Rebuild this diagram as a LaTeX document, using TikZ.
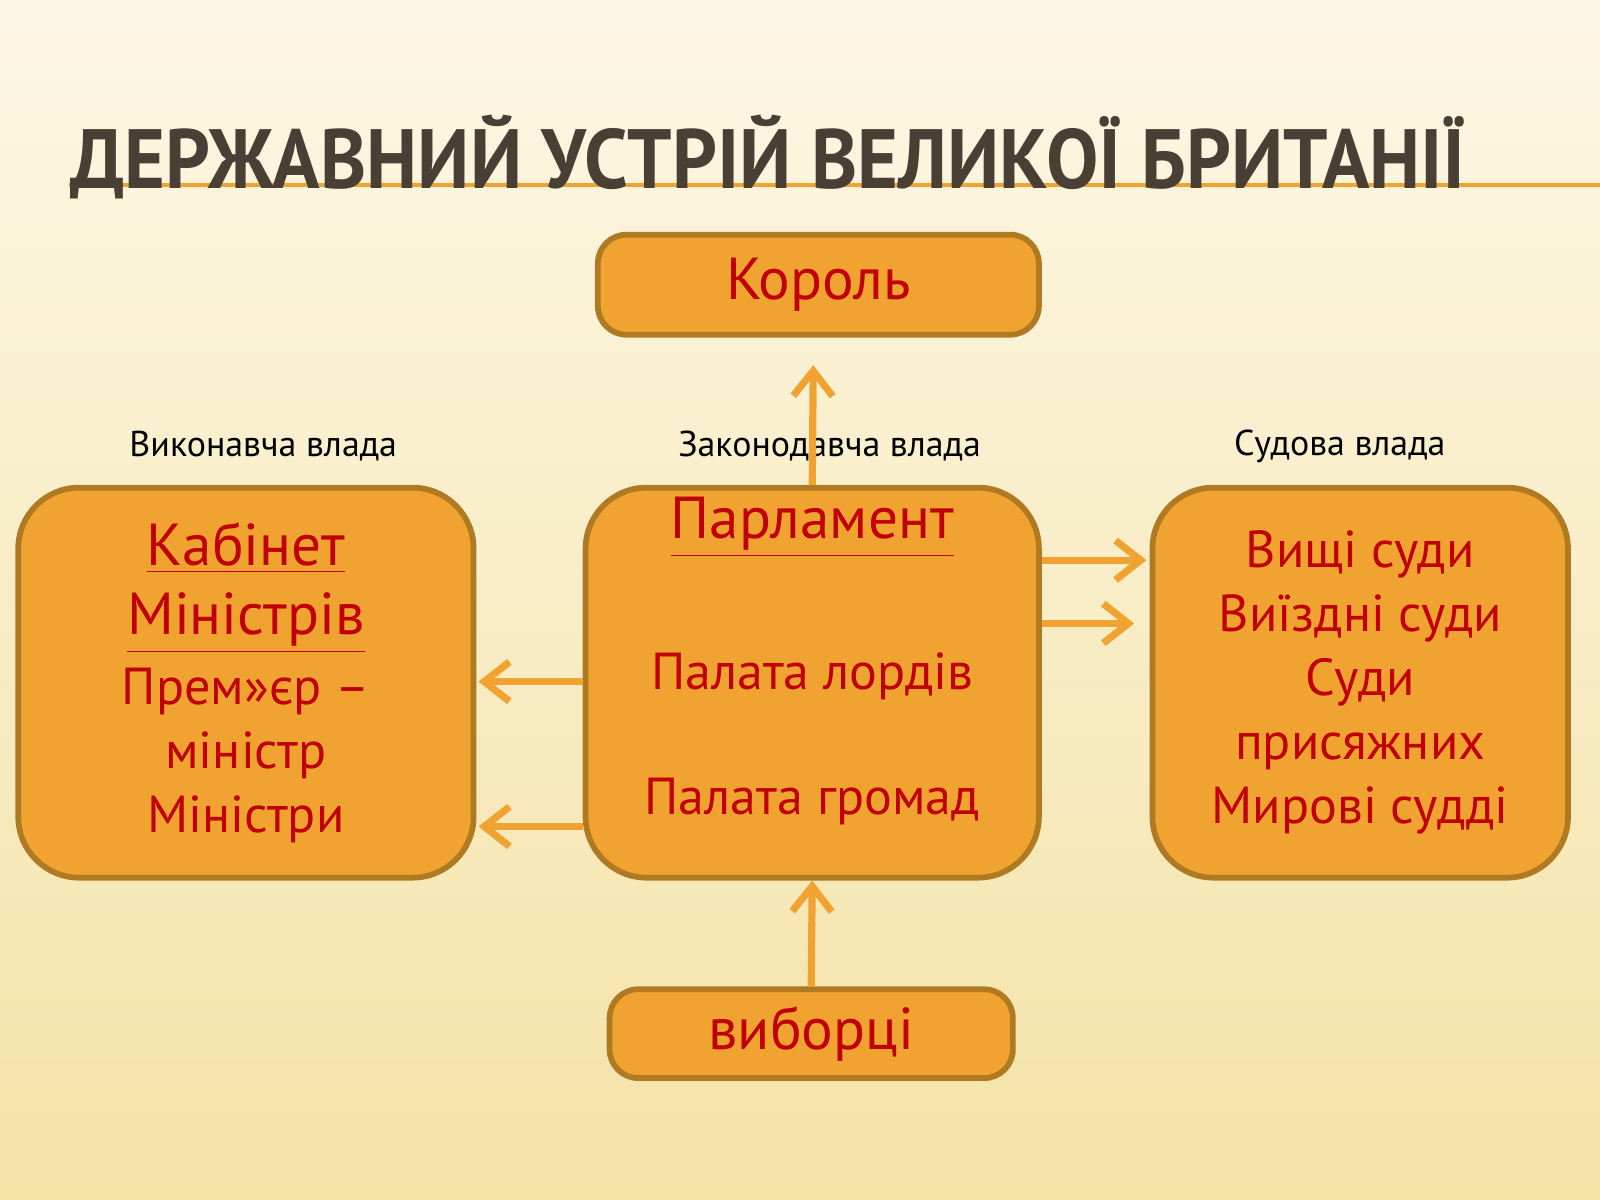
\documentclass[tikz,border=0pt]{standalone}
\usepackage{fontspec}
\setmainfont{PT Sans}
\usetikzlibrary{arrows.meta}
\usetikzlibrary{calc}
\definecolor{boxfill}{HTML}{F0A330}
\definecolor{boxline}{HTML}{B07A22}
\definecolor{txtred}{HTML}{C00000}
\definecolor{titlec}{HTML}{4A3F35}
\definecolor{bgtop}{HTML}{FDF8E6}
\definecolor{bgbot}{HTML}{F4E2A6}
\tikzset{
  smallbox/.style={draw=boxline, line width=1.6pt, fill=boxfill, rounded corners=8pt,
    text=txtred, font=\fontsize{16.5}{19}\selectfont, inner sep=0pt},
  bigbox/.style={draw=boxline, line width=1.6pt, fill=boxfill, rounded corners=17pt,
    text=txtred, align=center, font=\fontsize{14.5}{17.8}\selectfont, inner sep=0pt},
  branch/.style={font=\fontsize{10}{12}\selectfont, text=black},
  link/.style={draw=boxfill, line width=2pt, -{Straight Barb[length=7pt,width=11pt,line width=2pt]}}
}
\begin{document}
\begin{tikzpicture}[x=0.01cm, y=-0.01cm]
    \shade[top color=bgtop, bottom color=bgbot] (0,0) rectangle (1568,1176);
    \useasboundingbox (0,0) rectangle (1568,1176);
    \draw[boxfill, line width=1.2pt] (68,181) -- (1568,181);
    \node[text=titlec, anchor=base west, inner sep=0pt] (title) at (68,185)
        {\resizebox{13.67cm}{0.72cm}{\bfseries ДЕРЖАВНИЙ УСТРІЙ ВЕЛИКОЇ БРИТАНІЇ}};
    % boxes
    \node[smallbox, minimum width=4.32cm, minimum height=0.98cm] (king) at (802,279) {Король};
    \node[bigbox, minimum width=4.46cm, minimum height=3.82cm] (cabinet) at (241,669)
        {{\fontsize{16.5}{20}\selectfont\underline{Кабінет}}\\[0.05cm]
         {\fontsize{16.5}{20}\selectfont\underline{Міністрів}}\\[0.06cm]
         Прем»єр –\\ міністр\\ Міністри};
    \node[bigbox, minimum width=4.44cm, minimum height=3.82cm] (parl) at (796,669)
        {{\fontsize{16.5}{20}\selectfont\underline{Парламент}}\\[0.85cm]
         Палата лордів\\[0.6cm] Палата громад\\[-0.1cm]};
    \node[bigbox, minimum width=4.07cm, minimum height=3.82cm] (courts) at (1333,669)
        {Вищі суди\\ Виїздні суди\\ Суди\\ присяжних\\ Мирові судді};
    \node[smallbox, minimum width=3.95cm, minimum height=0.87cm] (voters) at (795,1013) {виборці};
    % branch labels
    \node[branch] (exec) at (258,437) {Виконавча влада};
    \node[branch] (legis) at (813,437) {Законодавча влада};
    \node[branch] (judic) at (1313,437) {Судова влада};
    % arrows
    \draw[link] (parl.north) -- ($(king.south)+(-5,27)$);
    \draw[link] (voters.north) -- (parl.south);
    \draw[link] (parl.west |- 0,668) -- ([xshift=0.02cm]cabinet.east |- 0,668);
    \draw[link] (parl.west |- 0,810) -- ([xshift=0.02cm]cabinet.east |- 0,810);
    \draw[link] (parl.east |- 0,549) -- ([xshift=-0.03cm]courts.west |- 0,549);
    \draw[link] (parl.east |- 0,611) -- ([xshift=-0.15cm]courts.west |- 0,611);
\end{tikzpicture}
\end{document}
